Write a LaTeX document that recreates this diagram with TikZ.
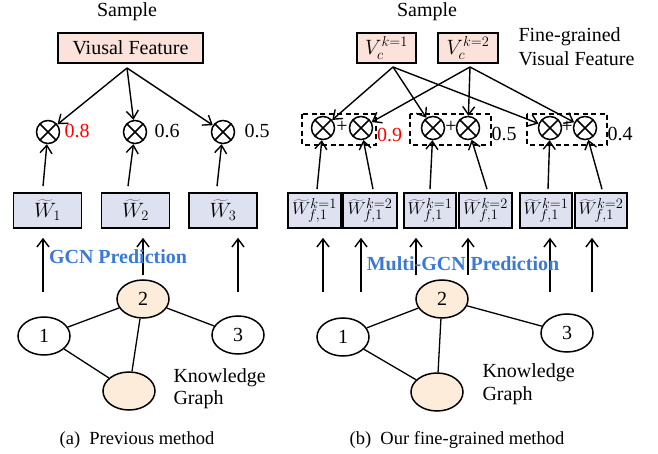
\documentclass[tikz,border=0pt]{standalone}
\usepackage{fontspec}
\setmainfont{Liberation Serif}
\usetikzlibrary{arrows.meta,shapes.geometric,calc}
\definecolor{pinkf}{RGB}{251,226,219}
\definecolor{lavf}{RGB}{222,225,240}
\definecolor{peach}{RGB}{253,236,218}
\definecolor{gcnblue}{RGB}{58,122,214}
\definecolor{redv}{RGB}{255,0,0}
\begin{document}
\begin{tikzpicture}[x=1pt,y=-1pt,
 every node/.style={font=\fontsize{20}{24}\selectfont},
 arr/.style={line width=1.4pt,-{Straight Barb[length=8pt,width=12pt]}},
 feat/.style={draw,line width=1.6pt,fill=pinkf,inner sep=0pt,minimum height=30pt},
 wbox/.style={draw,line width=1.6pt,fill=lavf,inner sep=0pt,minimum height=35pt},
 otimes/.style={circle,draw,line width=1.5pt,minimum size=23pt,inner sep=0pt,
   path picture={\draw[line width=1.5pt] (path picture bounding box.south west)--(path picture bounding box.north east) (path picture bounding box.north west)--(path picture bounding box.south east);}},
 kg/.style={ellipse,draw,line width=1.5pt,minimum width=52pt,minimum height=38pt,inner sep=0pt},
 kedge/.style={line width=1.3pt},
 dbox/.style={draw,dash pattern=on 5pt off 3.5pt,line width=1.2pt},
 val/.style={anchor=base}
]
\useasboundingbox (0,0) rectangle (658,454);

% ================= (a) =================
\node[anchor=base] (sa) at (127,17) {Sample};
\node[feat,minimum width=145pt] (vf) at (130.5,48) {Viusal Feature};
\coordinate (vfo) at (127,68);

\node[otimes] (a1) at (48,132) {};
\node[otimes] (a2) at (135,132) {};
\node[otimes] (a3) at (223,132) {};
\node[val,text=redv] (va1) at (77,138) {0.8};
\node[val] (va2) at (167,138) {0.6};
\node[val] (va3) at (257,138) {0.5};

\draw[arr] (vfo) -- (a1);
\draw[arr] (vfo) -- (a2);
\draw[arr] (vfo) -- (a3);

\node[wbox,minimum width=68pt] (wa1) at (47.5,210.5) {$\widetilde{W}_1$};
\node[wbox,minimum width=68pt] (wa2) at (135.5,210.5) {$\widetilde{W}_2$};
\node[wbox,minimum width=68pt] (wa3) at (223,210.5) {$\widetilde{W}_3$};

\draw[arr] ([xshift=-4.5pt,yshift=6pt]wa1.north) -- (a1);
\draw[arr] ([xshift=-7.5pt,yshift=6pt]wa2.north) -- (a2);
\draw[arr] ([xshift=-6pt,yshift=6pt]wa3.north) -- (a3);

\coordinate (ga1) at (43,292);
\coordinate (ga2) at (143,275);
\coordinate (ga3) at (238,292);
\draw[arr,shorten >=9pt] (ga1) -- (ga1 |- wa1.south);
\draw[arr,shorten >=9pt] (ga2) -- (ga2 |- wa2.south);
\draw[arr,shorten >=9pt] (ga3) -- (ga3 |- wa3.south);
\node[anchor=base,text=gcnblue,font=\fontsize{20}{24}\selectfont\bfseries] (gcn) at (118,264) {GCN Prediction};

\node[kg,fill=peach] (an2) at (143,299) {2};
\node[kg] (an1) at (44,336) {1};
\node[kg] (an3) at (238,335) {3};
\node[kg,fill=peach] (an4) at (129,391) {};
\draw[kedge] (an1) -- (an2);
\draw[kedge] (an1) -- (an4);
\draw[kedge] (an2) -- (an4);
\draw[kedge] (an2) -- (an3);
\node[anchor=base west] (kga1) at (170,382) {Knowledge};
\node[anchor=base west] (kga2) at (170,404) {Graph};

\node[anchor=base,font=\fontsize{18.5}{22}\selectfont] (capa) at (137,444) {(a)\ \ Previous method};

% ================= (b) =================
\node[anchor=base] (sb) at (427,17) {Sample};
\node[feat,minimum width=59pt] (v1) at (386.5,48) {$V_c^{k=1}$};
\node[feat,minimum width=60pt] (v2) at (468,48) {$V_c^{k=2}$};
\node[anchor=base west,align=left] (fg1) at (515,42) {Fine-grained};
\node[anchor=base west,align=left] (fg2) at (515,66) {Visual Feature};
\coordinate (v1o) at (393,67);
\coordinate (v2o) at (470,67);

\draw[dbox] (302,114) rectangle (376,145);
\draw[dbox] (410,114) rectangle (491,145);
\draw[dbox] (527,114) rectangle (607,145);

\node[otimes] (b11) at (323,128) {};
\node[otimes] (b12) at (361,128) {};
\node[otimes] (b21) at (433,128) {};
\node[otimes] (b22) at (468,128) {};
\node[otimes] (b31) at (550,128) {};
\node[otimes] (b32) at (585,128) {};
\node[font=\fontsize{20}{20}\selectfont] (p1) at (342,127) {+};
\node[font=\fontsize{20}{20}\selectfont] (p2) at (451,127) {+};
\node[font=\fontsize{20}{20}\selectfont] (p3) at (567,127) {+};
\node[val,text=redv] (vb1) at (389.5,142) {0.9};
\node[val] (vb2) at (504,141) {0.5};
\node[val] (vb3) at (620,141) {0.4};

\draw[arr] (v1o) -- (b11);
\draw[arr] (v1o) -- (b21);
\draw[arr] (v1o) -- (b31);
\draw[arr] (v2o) -- (b12);
\draw[arr] (v2o) -- (b22);
\draw[arr] (v2o) -- (b32);

\begin{scope}[every node/.append style={font=\fontsize{19}{22}\selectfont}]
\node[wbox,minimum width=53pt] (wb1) at (314.5,210.5) {$\widetilde{W}_{f,1}^{k=1}$};
\node[wbox,minimum width=54pt] (wb2) at (370,210.5) {$\widetilde{W}_{f,1}^{k=2}$};
\node[wbox,minimum width=52pt] (wb3) at (430,210.5) {$\widetilde{W}_{f,1}^{k=1}$};
\node[wbox,minimum width=53pt] (wb4) at (485.5,210.5) {$\widetilde{W}_{f,1}^{k=2}$};
\node[wbox,minimum width=52pt] (wb5) at (546,210.5) {$\widetilde{W}_{f,1}^{k=1}$};
\node[wbox,minimum width=52pt] (wb6) at (601,210.5) {$\widetilde{W}_{f,1}^{k=2}$};
\end{scope}

\draw[arr] ([xshift=2.5pt,yshift=3pt]wb1.north) -- (b11);
\draw[arr] ([xshift=3pt,yshift=3pt]wb2.north) -- (b12);
\draw[arr] ([xshift=0pt,yshift=3pt]wb3.north) -- (b21);
\draw[arr] ([xshift=1.5pt,yshift=3pt]wb4.north) -- (b22);
\draw[arr] ([xshift=2pt,yshift=3pt]wb5.north) -- (b31);
\draw[arr] ([xshift=1pt,yshift=3pt]wb6.north) -- (b32);

\coordinate (gb1) at (323,292);
\coordinate (gb2) at (361,292);
\coordinate (gb3) at (416,275);
\coordinate (gb4) at (468,275);
\coordinate (gb5) at (550,292);
\coordinate (gb6) at (592,292);
\draw[arr,shorten >=9pt] (gb1) -- (gb1 |- wb1.south);
\draw[arr,shorten >=9pt] (gb2) -- (gb2 |- wb2.south);
\draw[arr,shorten >=9pt] (gb3) -- (gb3 |- wb3.south);
\draw[arr,shorten >=9pt] (gb4) -- (gb4 |- wb4.south);
\draw[arr,shorten >=9pt] (gb5) -- (gb5 |- wb5.south);
\draw[arr,shorten >=9pt] (gb6) -- (gb6 |- wb6.south);
\node[anchor=base,text=gcnblue,font=\fontsize{20}{24}\selectfont\bfseries] (mgcn) at (463,270) {Multi-GCN Prediction};

\node[kg,fill=peach] (bn2) at (442,299) {2};
\node[kg] (bn1) at (343,337) {1};
\node[kg] (bn3) at (567,333) {3};
\node[kg,fill=peach] (bn4) at (437,392) {};
\draw[kedge] (bn1) -- (bn2);
\draw[kedge] (bn1) -- (bn4);
\draw[kedge] (bn2) -- (bn4);
\draw[kedge] (bn2) -- (bn3);
\node[anchor=base west] (kgb1) at (479,377) {Knowledge};
\node[anchor=base west] (kgb2) at (479,400) {Graph};

\node[anchor=base,font=\fontsize{18.5}{22}\selectfont] (capb) at (457,444) {(b)\ \ Our fine-grained method};
\end{tikzpicture}
\end{document}
